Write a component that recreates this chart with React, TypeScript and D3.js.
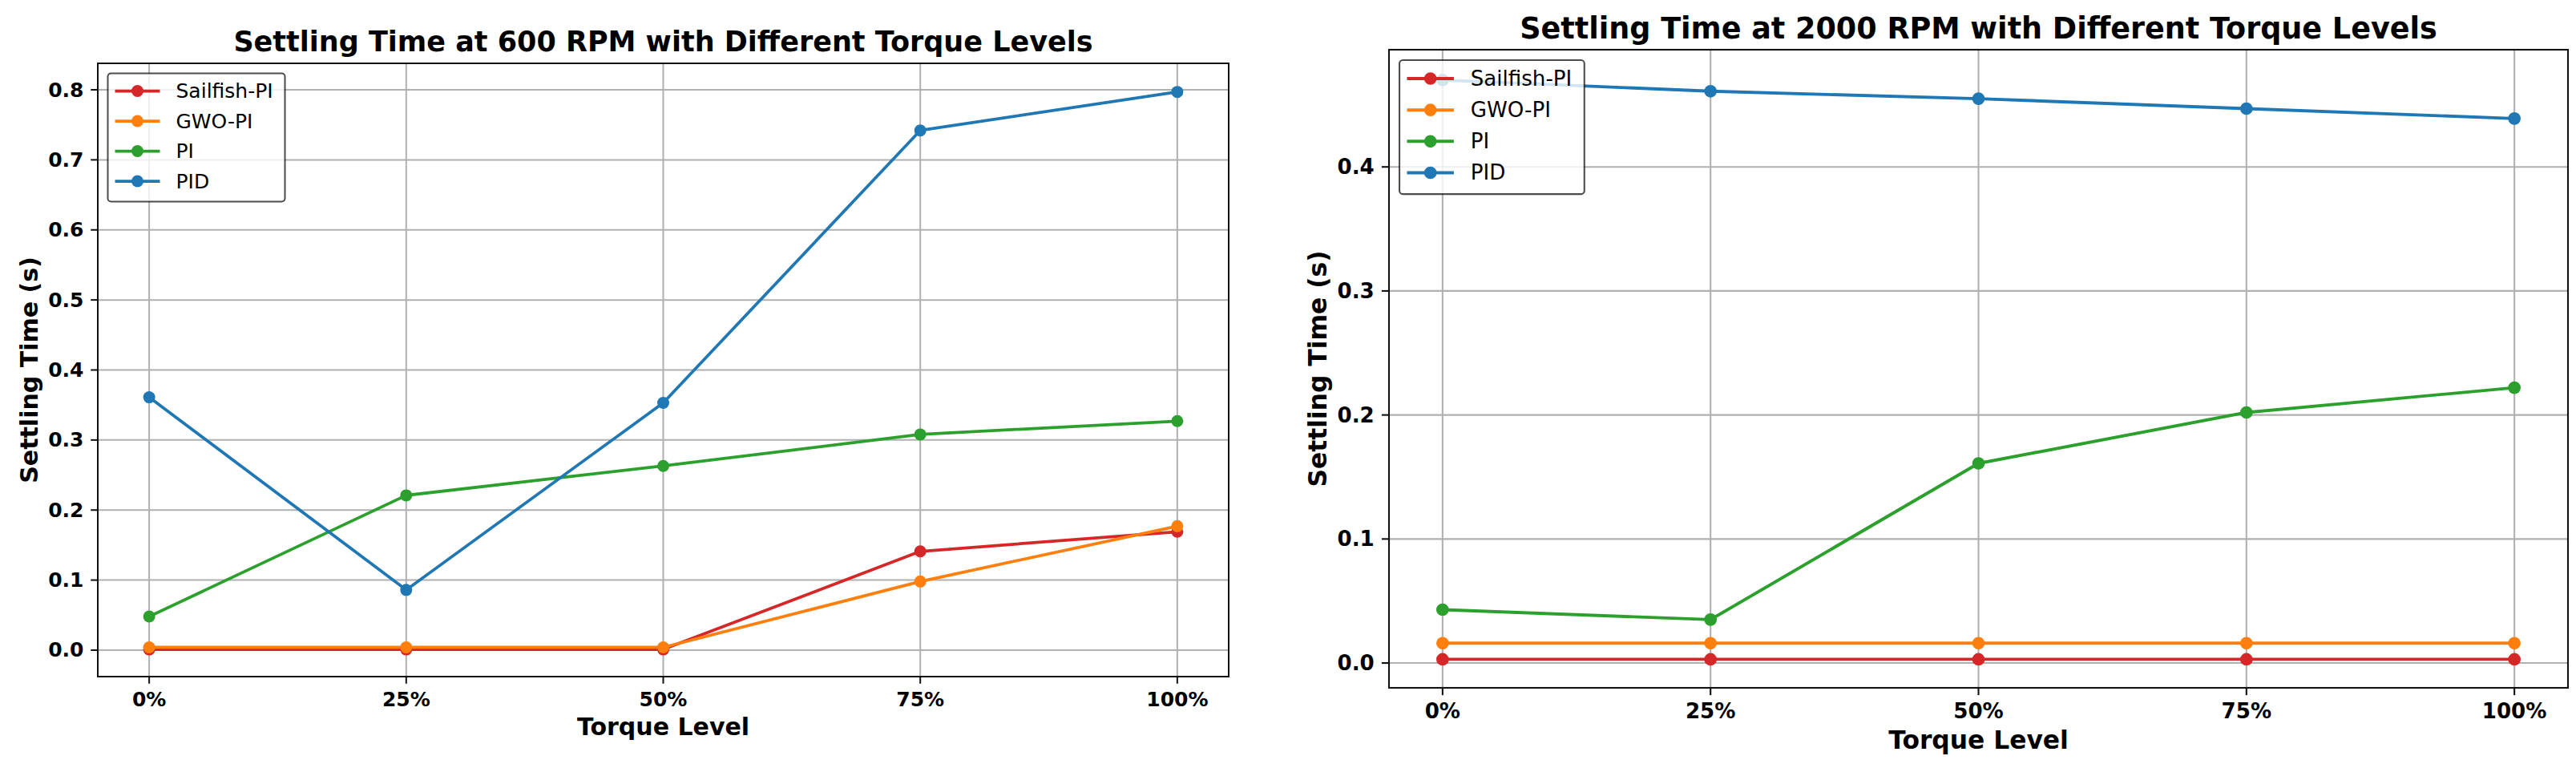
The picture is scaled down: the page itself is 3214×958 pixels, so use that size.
import React from "react";
import * as d3 from "d3";

// ---------- Data ----------
const categories = ["0%", "25%", "50%", "75%", "100%"];
const seriesNames = ["Sailfish-PI", "GWO-PI", "PI", "PID"];
const seriesColors = ["#d62728", "#ff7f0e", "#2ca02c", "#1f77b4"];

const title600 = "Settling Time at 600 RPM with Different Torque Levels";
const sailfish600 = [0.001, 0.001, 0.001, 0.141, 0.169];
const gwo600 = [0.004, 0.004, 0.004, 0.098, 0.177];
const pi600 = [0.048, 0.221, 0.263, 0.308, 0.327];
const pid600 = [0.361, 0.086, 0.353, 0.742, 0.797];
const yTicks600 = [0.0, 0.1, 0.2, 0.3, 0.4, 0.5, 0.6, 0.7, 0.8];
const yDomain600 = [-0.0378, 0.8378];

const title2000 = "Settling Time at 2000 RPM with Different Torque Levels";
const sailfish2000 = [0.003, 0.003, 0.003, 0.003, 0.003];
const gwo2000 = [0.016, 0.016, 0.016, 0.016, 0.016];
const pi2000 = [0.043, 0.035, 0.161, 0.202, 0.222];
const pid2000 = [0.47, 0.461, 0.455, 0.447, 0.439];
const yTicks2000 = [0.0, 0.1, 0.2, 0.3, 0.4];
const yDomain2000 = [-0.02, 0.4945];

const xLabel = "Torque Level";
const yLabel = "Settling Time (s)";

const FONT = "DejaVu Sans, sans-serif";

type PanelProps = {
  left: number;
  right: number;
  top: number;
  bottom: number;
  s: number; // px per pt
  title: string;
  titleY: number;
  values: number[][];
  yDomain: number[];
  yTicks: number[];
};

function Panel(p: PanelProps) {
  const { left, right, top, bottom, s } = p;
  const x = d3.scaleLinear().domain([-0.2, categories.length - 1 + 0.2]).range([left, right]);
  const y = d3.scaleLinear().domain(p.yDomain).range([bottom, top]);
  const line = d3
    .line<number>()
    .x((_, i) => x(i))
    .y((d) => y(d));

  const tickFont = 10 * s;
  const labelFont = 12 * s;
  const titleFont = 14 * s;
  const tickLen = 3.5 * s;
  const pad = 3.5 * s;
  const lw = 1.5 * s;
  const mr = 3 * s;
  const gridW = 0.8 * s;

  // legend geometry
  const lx = left + 5 * s;
  const ly = top + 5 * s;
  const lw2 = 88.4 * s;
  const lh = 64 * s;

  const fmt = d3.format(".1f");

  return (
    <g>
      {/* grid */}
      {categories.map((c, i) => (
        <line
          key={"gx" + c}
          x1={x(i)}
          x2={x(i)}
          y1={top}
          y2={bottom}
          stroke="#b0b0b0"
          strokeWidth={gridW}
        />
      ))}
      {p.yTicks.map((t) => (
        <line
          key={"gy" + t}
          x1={left}
          x2={right}
          y1={y(t)}
          y2={y(t)}
          stroke="#b0b0b0"
          strokeWidth={gridW}
        />
      ))}

      {/* series */}
      {p.values.map((vals, si) => (
        <g key={seriesNames[si]}>
          <path d={line(vals) || ""} fill="none" stroke={seriesColors[si]} strokeWidth={lw} strokeLinejoin="round" />
          {vals.map((v, i) => (
            <circle key={i} cx={x(i)} cy={y(v)} r={mr} fill={seriesColors[si]} />
          ))}
        </g>
      ))}

      {/* spines */}
      <rect x={left} y={top} width={right - left} height={bottom - top} fill="none" stroke="#111" strokeWidth={0.8 * s} />

      {/* x ticks */}
      {categories.map((c, i) => (
        <g key={"xt" + c}>
          <line x1={x(i)} x2={x(i)} y1={bottom} y2={bottom + tickLen} stroke="#111" strokeWidth={0.8 * s} />
          <text
            x={x(i)}
            y={bottom + tickLen + pad + 0.76 * tickFont}
            textAnchor="middle"
            fontFamily={FONT}
            fontWeight="bold"
            fontSize={tickFont}
            fill="#000"
          >
            {c}
          </text>
        </g>
      ))}

      {/* y ticks */}
      {p.yTicks.map((t) => (
        <g key={"yt" + t}>
          <line x1={left - tickLen} x2={left} y1={y(t)} y2={y(t)} stroke="#111" strokeWidth={0.8 * s} />
          <text
            x={left - tickLen - pad}
            y={y(t)}
            textAnchor="end"
            dominantBaseline="central"
            fontFamily={FONT}
            fontWeight="bold"
            fontSize={tickFont}
            fill="#000"
          >
            {fmt(t)}
          </text>
        </g>
      ))}

      {/* axis labels */}
      <text
        x={(left + right) / 2}
        y={bottom + 29 * s}
        textAnchor="middle"
        fontFamily={FONT}
        fontWeight="bold"
        fontSize={labelFont}
        fill="#000"
      >
        {xLabel}
      </text>
      <text
        transform={`translate(${left - 30 * s},${(top + bottom) / 2}) rotate(-90)`}
        textAnchor="middle"
        fontFamily={FONT}
        fontWeight="bold"
        fontSize={labelFont}
        fill="#000"
      >
        {yLabel}
      </text>

      {/* title */}
      <text
        x={(left + right) / 2}
        y={p.titleY}
        textAnchor="middle"
        fontFamily={FONT}
        fontWeight="bold"
        fontSize={titleFont}
        fill="#000"
      >
        {p.title}
      </text>

      {/* legend */}
      <rect
        x={lx}
        y={ly}
        width={lw2}
        height={lh}
        rx={1.6 * s}
        fill="#fff"
        fillOpacity={0.8}
        stroke="#000"
        strokeOpacity={0.7}
        strokeWidth={0.8 * s}
      />
      {seriesNames.map((n, i) => {
        const ry = ly + 8.8 * s + i * 15 * s;
        return (
          <g key={"lg" + n}>
            <line x1={lx + 3.6 * s} x2={lx + 26 * s} y1={ry} y2={ry} stroke={seriesColors[i]} strokeWidth={lw} />
            <circle cx={lx + 14.8 * s} cy={ry} r={mr} fill={seriesColors[i]} />
            <text
              x={lx + 34 * s}
              y={ry}
              dominantBaseline="central"
              fontFamily={FONT}
              fontSize={tickFont}
              fill="#000"
            >
              {n}
            </text>
          </g>
        );
      })}
    </g>
  );
}

export default function App() {
  return (
    <svg
      width={3214}
      height={958}
      viewBox="0 0 3214 958"
      style={{ position: "absolute", left: 0, top: 0, display: "block", background: "#fff" }}
    >
      <rect x={0} y={0} width={3214} height={958} fill="#fff" />
      <Panel
        left={122}
        right={1533}
        top={79}
        bottom={844}
        s={2.5}
        title={title600}
        titleY={64}
        values={[sailfish600, gwo600, pi600, pid600]}
        yDomain={yDomain600}
        yTicks={yTicks600}
      />
      <Panel
        left={1733}
        right={3204}
        top={62}
        bottom={858}
        s={2.61}
        title={title2000}
        titleY={48}
        values={[sailfish2000, gwo2000, pi2000, pid2000]}
        yDomain={yDomain2000}
        yTicks={yTicks2000}
      />
    </svg>
  );
}
